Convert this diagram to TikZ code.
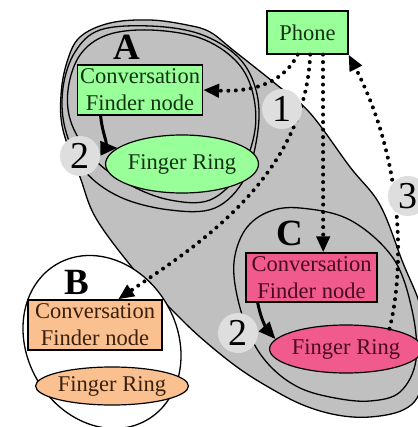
\documentclass[tikz,border=0pt]{standalone}
\usepackage{fontspec}
\setmainfont{Liberation Serif}
\newfontfamily\tnrfont{Liberation Serif}
\usetikzlibrary{arrows.meta,shapes.geometric}
\definecolor{greyfill}{HTML}{C0C0C0}
\definecolor{numgrey}{HTML}{DEDEDE}
\definecolor{lgreen}{HTML}{99FF99}
\definecolor{lpink}{HTML}{F05A8C}
\definecolor{lpeach}{HTML}{FAC08F}
\definecolor{tgreen}{HTML}{143214}
\definecolor{tpink}{HTML}{4A0A1E}
\definecolor{tpeach}{HTML}{3A200C}
\begin{document}
\begin{tikzpicture}[x=1pt,y=-1pt,
  box/.style={draw=black, line width=1.2pt, rectangle, inner sep=0pt, align=center,
    font=\tnrfont\fontsize{22.5}{27}\selectfont},
  ring/.style={draw=black, line width=1.2pt, ellipse, inner sep=0pt,
    font=\tnrfont\fontsize{22.5}{27}\selectfont},
  lbl/.style={font=\tnrfont\fontsize{37}{40}\selectfont\bfseries, inner sep=0pt, anchor=base},
  num/.style={circle, fill=numgrey, minimum size=40pt, inner sep=0pt,
    font=\tnrfont\fontsize{38}{40}\selectfont},
  dots/.style={line width=4pt, dash pattern=on 0pt off 7.5pt, line cap=round,
    -{Triangle[length=16pt,width=13pt]}},
  solidarr/.style={line width=3pt, -{Triangle[length=17pt,width=14pt]}},
  outline/.style={draw=black, line width=1.3pt}
]
\fill[white] (0,0) rectangle (417,427);
\useasboundingbox (0,0) rectangle (417,427);

% big grey region
\filldraw[outline, fill=greyfill] plot[smooth cycle, tension=0.6] coordinates {
  (80,37) (110,23) (150,20) (187,25) (210,32) (233,50) (277,85) (310,113)
  (350,167) (380,205) (403,263) (420,305) (428,350) (420,392) (403,410)
  (370,417) (337,415) (303,405) (270,388) (237,367) (200,337) (170,308)
  (140,277) (97,220) (80,177) (63,130) (61,95) (67,62)};

% group A outlines
\draw[outline] plot[smooth cycle, tension=0.6] coordinates {
  (107,35) (150,30) (200,38) (235,60) (252,90) (255,130) (240,172) (210,200)
  (170,200) (130,185) (95,160) (72,125) (68,90) (80,55)};
\draw[outline] plot[smooth cycle, tension=0.6] coordinates {
  (100,30) (150,26) (200,34) (238,57) (256,90) (258,130) (245,178) (215,208)
  (170,210) (120,197) (84,170) (65,128) (63,88) (75,52)};

% group C outline
\draw[outline] plot[smooth cycle, tension=0.6] coordinates {
  (300,208) (350,220) (393,258) (412,310) (416,360) (400,392) (370,401)
  (335,398) (300,388) (272,368) (252,340) (238,300) (234,262) (245,230) (268,212)};

% group B outline
\filldraw[outline, fill=white, rotate around={-60:(102,342)}] (102,342) ellipse [x radius=90pt, y radius=75pt];

% nodes
\node[box, fill=lgreen, text=tgreen, minimum width=81pt, minimum height=43pt] (P) at (307.5,32.5) {Phone};
\node[box, fill=lgreen, text=tgreen, minimum width=125pt, minimum height=50pt] (A) at (140,90) {Conversation\\Finder node};
\node[box, fill=lpeach, text=tpeach, minimum width=134pt, minimum height=50pt] (B) at (95,325) {Conversation\\Finder node};
\node[box, fill=lpink, text=tpink, minimum width=131pt, minimum height=49pt] (C) at (311.5,277.5) {Conversation\\Finder node};
\node[ring, fill=lgreen, text=tgreen, minimum width=117pt, minimum height=58pt] (RA) at (182,164) {Finger Ring};
\node[ring, fill=lpeach, text=tpeach, minimum width=117pt, minimum height=38pt] (RB) at (112,386) {Finger Ring};
\node[ring, fill=lpink, text=tpink, minimum width=133pt, minimum height=48pt] (RC) at (346,349) {Finger Ring};

\node[lbl] (LA) at (127,60) {A};
\node[lbl] (LB) at (77,294) {B};
\node[lbl] (LC) at (290,245) {C};

% connectors
\draw[solidarr] (A.-147) .. controls (103,140) and (112,148) .. (RA.166);
\draw[solidarr] (C.-155) .. controls (262,325) and (270,333) .. (RC.172);
\draw[dots] (P.-114) .. controls (282,85) and (250,92) .. (A.east);
\draw[dots] (P.-83) .. controls (305,180) and (190,250) .. (B.48);
\draw[dots] (P.-55) -- (C.65);
\draw[dots] (RC.25) .. controls (402,280) and (408,170) .. (P.south east);

% step numbers
\node[num] (N1) at (282,109) {1};
\node[num] (N2a) at (80,156) {2};
\node[num] (N2c) at (238,333) {2};
\node[num] (N3) at (408,196) {3};
\end{tikzpicture}
\end{document}
